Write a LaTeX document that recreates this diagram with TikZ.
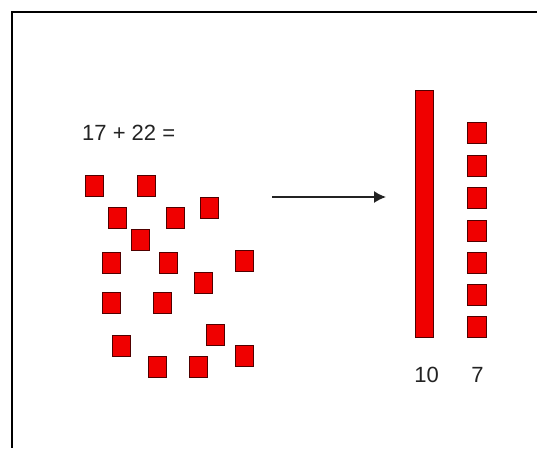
\documentclass[tikz,border=0pt]{standalone}
\usepackage{fontspec}
\setmainfont{Liberation Sans}
\usetikzlibrary{arrows.meta}
\definecolor{sqfill}{RGB}{240,0,0}
\definecolor{sqedge}{RGB}{80,0,0}
\definecolor{txtc}{RGB}{35,35,35}
\begin{document}
\begin{tikzpicture}[x=1pt,y=-1pt,
  sq/.style={draw=sqedge,fill=sqfill,line width=0.9pt,minimum width=18pt,minimum height=21pt,inner sep=0pt,outer sep=0pt},
  colsq/.style={sq,minimum width=19pt,minimum height=21pt},
  lbl/.style={font=\fontsize{22}{25}\selectfont,text=txtc,inner sep=0pt},
  frame/.style={line width=1.6pt,black}]
\useasboundingbox (0,0) rectangle (537,448);
% frame (top and left edges)
\coordinate (fTR) at (537,12);
\coordinate (fTL) at (12,12);
\coordinate (fBL) at (12,448);
\draw[frame] (fTR) -- (fTL) -- (fBL);
% equation
\node[lbl,anchor=base west] (eq) at (82,140) {17 + 22 =};
% loose squares
\node[sq] (s1) at (94,186) {};
\node[sq] (s2) at (146,186) {};
\node[sq] (s3) at (117,218) {};
\node[sq] (s4) at (175,218) {};
\node[sq] (s5) at (209,208) {};
\node[sq] (s6) at (140,240) {};
\node[sq] (s7) at (111.5,263) {};
\node[sq] (s8) at (168.5,263) {};
\node[sq] (s9) at (244,261) {};
\node[sq] (s10) at (203.5,283) {};
\node[sq] (s11) at (111.5,303) {};
\node[sq] (s12) at (162.5,303) {};
\node[sq] (s13) at (215,335) {};
\node[sq] (s14) at (121,346) {};
\node[sq] (s15) at (157,366.5) {};
\node[sq] (s16) at (198,366.5) {};
\node[sq] (s17) at (244,356) {};
% arrow
\coordinate (arrS) at (272,197);
\coordinate (arrE) at (386,197);
\draw[line width=1.5pt,draw=txtc,-{Latex[length=12pt,width=12pt]}] (arrS) -- (arrE);
% ten bar
\node[sq,minimum width=18pt,minimum height=247pt] (bar) at (424,213.5) {};
% seven column
\node[colsq] (c1) at (476.5,133) {};
\node[colsq] (c2) at (476.5,165.5) {};
\node[colsq] (c3) at (476.5,198) {};
\node[colsq] (c4) at (476.5,230.5) {};
\node[colsq] (c5) at (476.5,263) {};
\node[colsq] (c6) at (476.5,295) {};
\node[colsq] (c7) at (476.5,327) {};
% labels
\node[lbl,anchor=base] (l10) at (426.5,382) {10};
\node[lbl,anchor=base] (l7) at (477.5,382) {7};
\end{tikzpicture}
\end{document}
